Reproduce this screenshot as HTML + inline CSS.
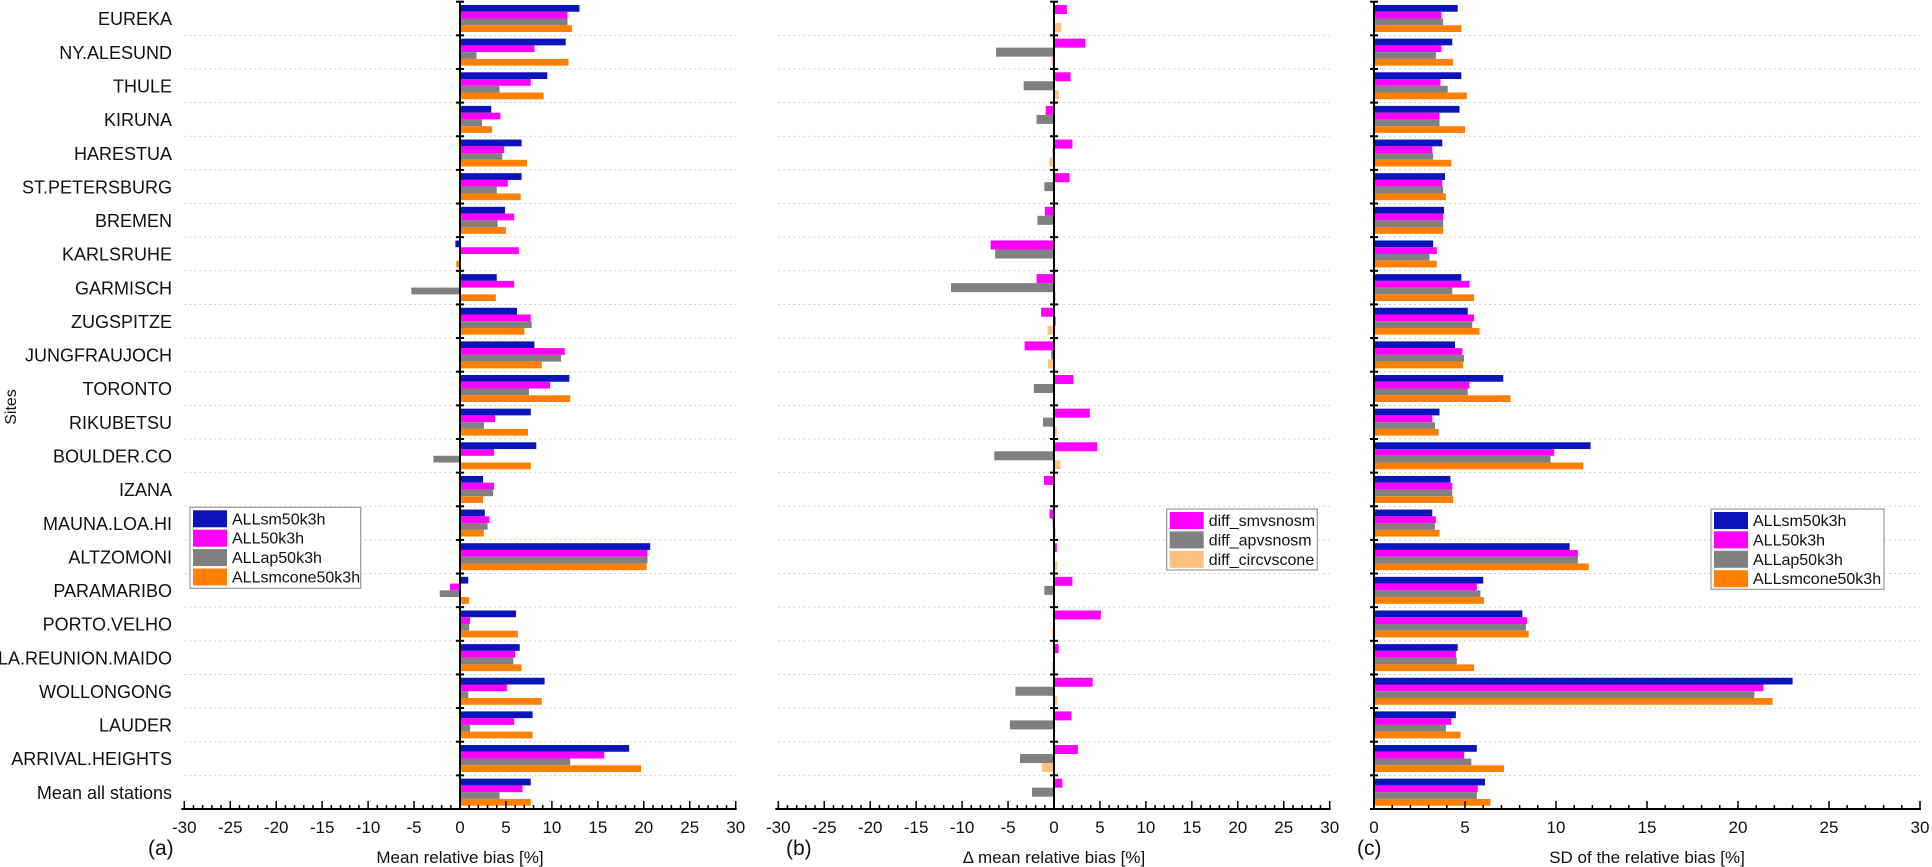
<!DOCTYPE html>
<html><head><meta charset="utf-8"><style>
body{margin:0;background:#fff}
svg{display:block;font-family:"Liberation Sans",Arial,sans-serif}
</style></head><body>
<svg id="chart" width="1932" height="867" viewBox="0 0 1932 867" xmlns="http://www.w3.org/2000/svg"></svg>
<script>
const sites=["EUREKA","NY.ALESUND","THULE","KIRUNA","HARESTUA","ST.PETERSBURG","BREMEN","KARLSRUHE","GARMISCH","ZUGSPITZE","JUNGFRAUJOCH","TORONTO","RIKUBETSU","BOULDER.CO","IZANA","MAUNA.LOA.HI","ALTZOMONI","PARAMARIBO","PORTO.VELHO","LA.REUNION.MAIDO","WOLLONGONG","LAUDER","ARRIVAL.HEIGHTS","Mean all stations"];
const biasSm=[13.0,11.5,9.5,3.4,6.7,6.7,4.9,-0.5,4.0,6.2,8.1,11.9,7.7,8.3,2.5,2.7,20.7,0.9,6.1,6.5,9.2,7.9,18.4,7.7];
const biasAll=[11.7,8.1,7.7,4.4,4.8,5.2,5.9,6.4,5.9,7.7,11.4,9.8,3.8,3.7,3.7,3.2,20.4,-1.1,1.1,6.0,5.1,5.9,15.7,6.8];
const biasAp=[11.7,1.8,4.3,2.4,4.6,4.0,4.1,0,-5.3,7.8,11.0,7.5,2.6,-2.9,3.6,3.0,20.4,-2.2,1.0,5.8,0.9,1.1,12.0,4.3];
const biasCone=[12.2,11.8,9.1,3.5,7.3,6.6,5.0,-0.4,3.9,7.0,8.9,12.0,7.4,7.7,2.5,2.6,20.3,1.0,6.3,6.7,8.9,7.9,19.7,7.7];
const diffSm=[1.4,3.4,1.8,-0.9,2.0,1.7,-1.0,-6.9,-1.9,-1.4,-3.2,2.1,3.9,4.7,-1.1,-0.5,0.3,2.0,5.1,0.5,4.2,1.9,2.6,0.9];
const diffAp=[0,-6.3,-3.3,-1.9,-0.15,-1.05,-1.8,-6.4,-11.2,0.2,-0.3,-2.2,-1.2,-6.5,0,-0.15,0,-1.05,0,-0.1,-4.2,-4.8,-3.7,-2.4];
const diffCirc=[0.8,-0.25,0.5,0,-0.5,0.1,0,-0.1,0.2,-0.7,-0.65,-0.1,0.3,0.7,0,0.2,0.35,0,-0.2,-0.2,0.35,0,-1.3,0];
const sdSm=[4.6,4.3,4.8,4.7,3.75,3.9,3.85,3.25,4.8,5.15,4.45,7.1,3.6,11.9,4.2,3.2,10.75,6.0,8.15,4.6,23.0,4.5,5.65,6.1];
const sdAll=[3.7,3.7,3.65,3.6,3.2,3.75,3.8,3.45,5.25,5.5,4.85,5.25,3.2,9.9,4.3,3.4,11.2,5.65,8.4,4.5,21.4,4.25,4.95,5.7];
const sdAp=[3.8,3.4,4.05,3.6,3.25,3.8,3.8,3.05,4.3,5.4,4.95,5.15,3.35,9.7,4.3,3.35,11.2,5.85,8.35,4.55,20.9,3.95,5.35,5.65];
const sdCone=[4.8,4.35,5.1,5.0,4.25,3.95,3.8,3.45,5.5,5.8,4.9,7.5,3.55,11.5,4.35,3.6,11.8,6.05,8.5,5.5,21.9,4.75,7.15,6.4];
const ticksAB=[-30,-25,-20,-15,-10,-5,0,5,10,15,20,25,30];
const ticksC=[0,5,10,15,20,25,30];

const NS="http://www.w3.org/2000/svg";
const svg=document.getElementById('chart');
function el(tag,attrs,parent){const e=document.createElementNS(NS,tag);for(const k in attrs)e.setAttribute(k,attrs[k]);(parent||svg).appendChild(e);return e;}
const TOP=1.7,BOT=809,PITCH=(BOT-TOP)/sites.length;
const BLUE="#0a14b8",MAG="#ff00ff",GRAY="#808080",ORG="#ff8000",LORG="#ffc080";

function panel(name,x0,x1,vmin,vmax,series,colors,barH,ticks,title,letter,letterX){
  const g=el('g',{});
  
  
  const sx=v=>x0+(v-vmin)/(vmax-vmin)*(x1-x0);
  for(let i=1;i<sites.length;i++){
    const y=TOP+i*PITCH;
    const l=el('line',{x1:x0,x2:x1,y1:y,y2:y,stroke:"#cfcfcf","stroke-width":1,"stroke-dasharray":"2,3"},g);
    
    
  }
  series.forEach((arr,si)=>{
    arr.forEach((v,i)=>{
      if(v===0)return;
      const y=TOP+i*PITCH+3.3+si*barH;
      const a=sx(0),b=sx(v);
      const r=el('rect',{x:Math.min(a,b),y:y,width:Math.abs(b-a),height:barH,fill:colors[si]},g);
      
      
    });
  });
  const ax0=sx(0);
  el('line',{x1:ax0,x2:ax0,y1:TOP,y2:BOT,stroke:"#000","stroke-width":2},g);
  for(let i=0;i<=sites.length;i++){
    const y=TOP+i*PITCH;
    el('line',{x1:ax0-4,x2:ax0+4,y1:y,y2:y,stroke:"#000","stroke-width":2},g);
  }
  const xa=el('line',{x1:x0-3,x2:x1+1,y1:BOT,y2:BOT,stroke:"#000","stroke-width":2},g);
  
  
  for(let v=vmin;v<=vmax;v++){
    const x=sx(v);const major=(v%5===0);
    el('line',{x1:x,x2:x,y1:BOT,y2:BOT-(major?8:4),stroke:"#000","stroke-width":1.5},g);
  }
  ticks.forEach(v=>{
    const t=el('text',{x:sx(v),y:833,"font-size":17,"text-anchor":"middle",fill:"#111"},g);
    t.textContent=v;
    
    
  });
  const tt=el('text',{x:(x0+x1)/2,y:863,"font-size":17,"text-anchor":"middle",fill:"#111"},g);
  tt.textContent=title;
  
  
  const lt=el('text',{x:letterX,y:855,"font-size":21,fill:"#111"},g);
  lt.textContent=letter;
  
  
  return sx;
}
panel('panel-a',184.3,735.7,-30,30,[biasSm,biasAll,biasAp,biasCone],[BLUE,MAG,GRAY,ORG],6.75,ticksAB,"Mean relative bias [%]","(a)",148);
panel('panel-b',778.3,1329.7,-30,30,[diffSm,diffAp,diffCirc],[MAG,GRAY,LORG],9,ticksAB,"\u0394 mean relative bias [%]","(b)",786);
panel('panel-c',1374,1920,0,30,[sdSm,sdAll,sdAp,sdCone],[BLUE,MAG,GRAY,ORG],6.75,ticksC,"SD of the relative bias [%]","(c)",1357);

sites.forEach((s,i)=>{
  const t=el('text',{x:172,y:TOP+i*PITCH+23.5,"font-size":18,"text-anchor":"end",fill:"#111"});
  t.textContent=s;
  
  
});
const yt=el('text',{x:0,y:0,"font-size":16,"text-anchor":"middle",fill:"#111",transform:"translate(16,407) rotate(-90)"});
yt.textContent="Sites";



function legend(name,x,y,w,h,labels,colors){
  const g=el('g',{});
  
  
  el('rect',{x:x,y:y,width:w,height:h,fill:"#fff",stroke:"#999","stroke-width":1.2},g);
  labels.forEach((lb,i)=>{
    const yy=y+3+i*19.4;
    const sw=el('rect',{x:x+3,y:yy,width:34,height:17,fill:colors[i]},g);
    
    
    const t=el('text',{x:x+42,y:yy+14,"font-size":16,fill:"#111"},g);
    t.textContent=lb;
    
    
  });
}
legend('legend-a',190,507.3,170.7,81,["ALLsm50k3h","ALL50k3h","ALLap50k3h","ALLsmcone50k3h"],[BLUE,MAG,GRAY,ORG]);
legend('legend-b',1166.7,509,150.6,61,["diff_smvsnosm","diff_apvsnosm","diff_circvscone"],[MAG,GRAY,LORG]);
legend('legend-c',1711,509,173,80.3,["ALLsm50k3h","ALL50k3h","ALLap50k3h","ALLsmcone50k3h"],[BLUE,MAG,GRAY,ORG]);
</script>
</body></html>
